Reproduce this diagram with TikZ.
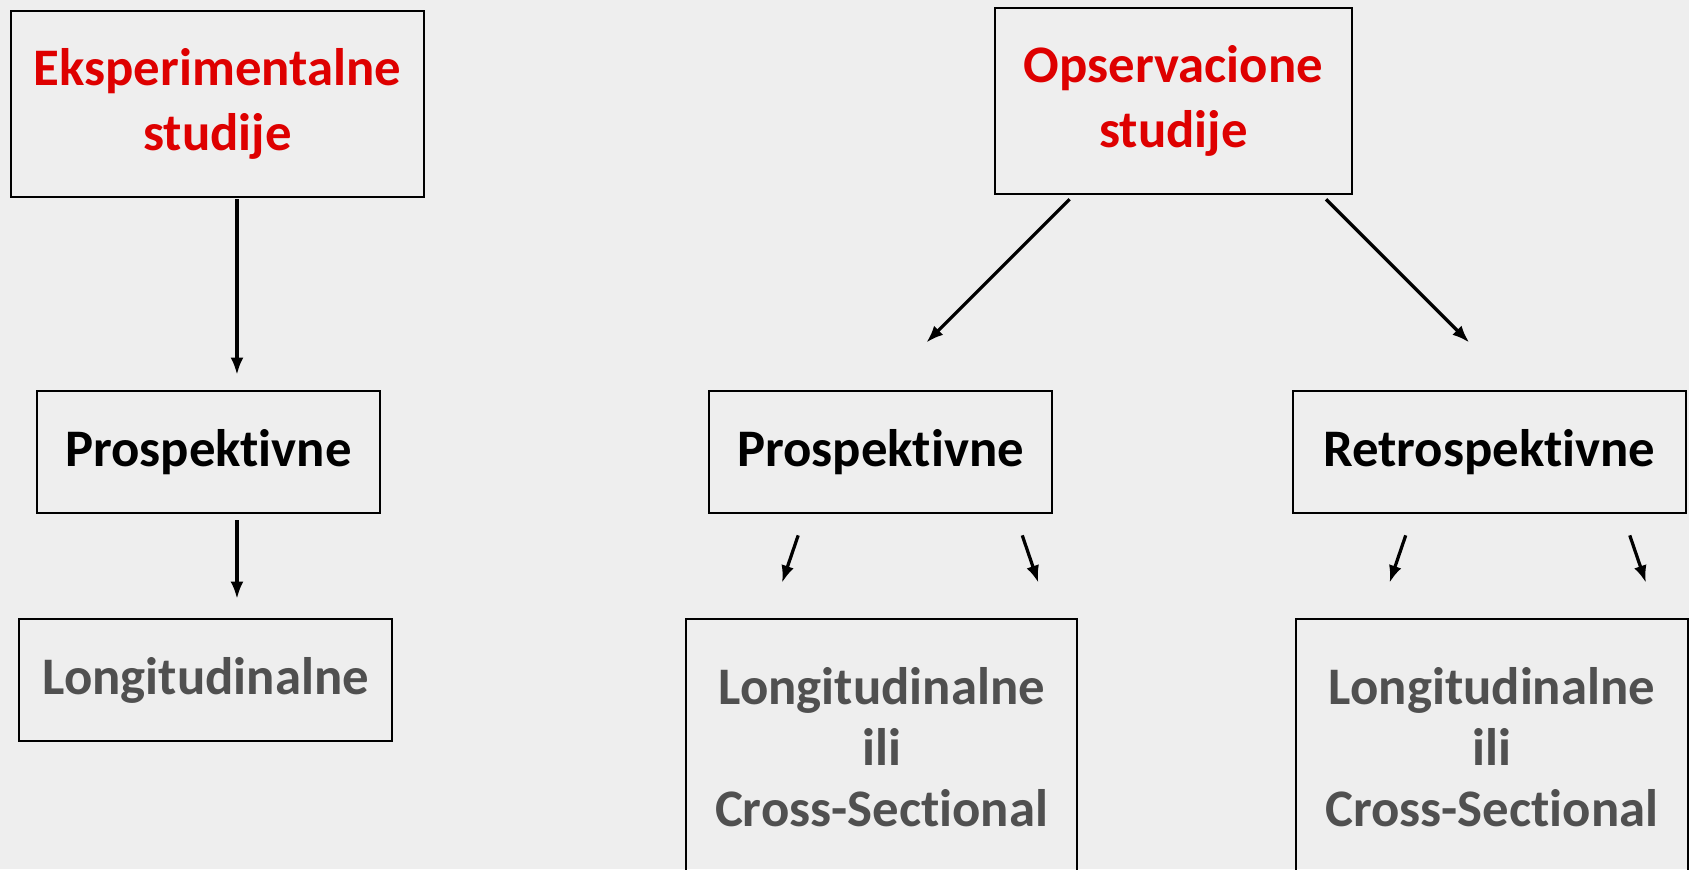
\documentclass[tikz,border=0pt]{standalone}
\usepackage{fontspec}
\setmainfont{Carlito}[Ligatures={NoCommon}]
\usetikzlibrary{arrows.meta}
\definecolor{bgGray}{RGB}{238,238,238}
\definecolor{titleRed}{RGB}{222,0,0}
\definecolor{textGray}{RGB}{80,80,80}
\begin{document}
\begin{tikzpicture}[x=0.5pt,y=0.5pt,yscale=-1,
  box/.style={draw=black,line width=0.9pt,inner sep=0pt,align=center,
    font=\fontsize{24.5}{28.3}\selectfont\bfseries},
  title/.style={box,text=titleRed,minimum height=86.5pt,
    font=\fontsize{24.5}{30}\selectfont\bfseries},
  arr/.style={line width=1.5pt,-{Latex[length=8pt,width=6pt]}}]
\useasboundingbox (0,0) rectangle (1568,807);
\fill[bgGray] (0,0) rectangle (1568,807);
\clip (0,0) rectangle (1568,807);

% Rectangles
\node[title,minimum width=192pt] (eksp) at (202,96.5) {Eksperimentalne\\studije};
\node[title,minimum width=165.5pt] (opserv) at (1089.5,93.5) {Opservacione\\studije};

\node[box,minimum width=159.5pt,minimum height=56.5pt] (prospA) at (193.5,419.5) {Prospektivne};
\node[box,minimum width=159.5pt,minimum height=56.5pt] (prospB) at (817.5,419.5) {Prospektivne};
\node[box,minimum width=182.5pt,minimum height=56.5pt] (retro) at (1382.5,419.5) {Retrospektivne};

\node[box,text=textGray,minimum width=173pt,minimum height=56.5pt] (longA) at (191,631.5) {Longitudinalne};
\node[box,text=textGray,minimum width=181.5pt,minimum height=118.5pt] (longB) at (818.5,693.5) {Longitudinalne\\ili\\Cross-Sectional};
\node[box,text=textGray,minimum width=182pt,minimum height=118.5pt] (longC) at (1385,693.5) {Longitudinalne\\ili\\Cross-Sectional};

% Arrow ends
\coordinate (e1) at (220,185);   \coordinate (e2) at (220,348);
\coordinate (e3) at (220,483);   \coordinate (e4) at (220,556);
\coordinate (o1) at (993,185);   \coordinate (o2) at (860,318);
\coordinate (o3) at (1231,185);  \coordinate (o4) at (1364,318);
\coordinate (p1) at (741,497);   \coordinate (p2) at (726,541);
\coordinate (p3) at (949,497);   \coordinate (p4) at (964,541);
\coordinate (r1) at (1305,497);  \coordinate (r2) at (1290,541);
\coordinate (r3) at (1513,497);  \coordinate (r4) at (1528,541);

% Arrows
\draw[arr] (e1) -- (e2);
\draw[arr] (e3) -- (e4);
\draw[arr] (o1) -- (o2);
\draw[arr] (o3) -- (o4);
\draw[arr] (p1) -- (p2);
\draw[arr] (p3) -- (p4);
\draw[arr] (r1) -- (r2);
\draw[arr] (r3) -- (r4);

\end{tikzpicture}
\end{document}
